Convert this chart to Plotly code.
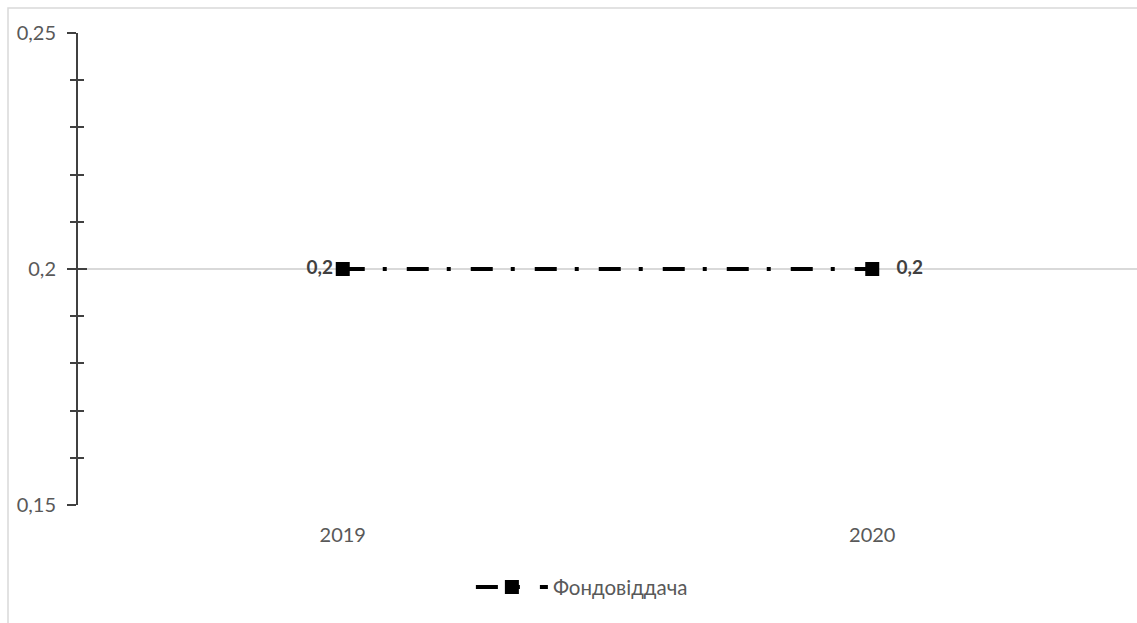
import plotly.graph_objects as go

# Fixed-asset productivity (фондовіддача) by year
years = ["2019", "2020"]
fondovidacha = [0.2, 0.2]
series_name = "Фондовіддача"
label_pos = ["middle left", "middle right"]

y_min, y_max, y_major, y_minor = 0.15, 0.25, 0.05, 0.01

# value labels; the right one is padded away from its marker
pads = ["", "&nbsp;&nbsp;&nbsp;"]
labels = [p + "<b>" + f"{v:.1f}".replace(".", ",") + "</b>" for p, v in zip(pads, fondovidacha)]

FONT = "Lato"
TXT = "#595959"
AXIS = "#404040"

fig = go.Figure()
fig.add_trace(go.Scatter(
    x=years, y=fondovidacha, name=series_name,
    mode="lines+markers+text",
    line=dict(color="#000000", width=4, dash="22px,18px,4px,20px"),
    marker=dict(symbol="square", size=14, color="#000000"),
    text=labels, textposition=label_pos,
    textfont=dict(family=FONT, size=19, color=AXIS),
    cliponaxis=False,
))

fig.update_layout(
    width=1137, height=623,
    margin=dict(l=78, r=0, t=33, b=118),
    paper_bgcolor="white", plot_bgcolor="white",
    separators=", ",
    font=dict(family=FONT, size=20, color=TXT),
    showlegend=True,
    legend=dict(orientation="h", x=0.371, xanchor="left", y=-0.174, yanchor="middle",
                itemwidth=72,
                font=dict(family=FONT, size=20.5, color=TXT)),
    xaxis=dict(type="category", range=[-0.5, 1.5], showgrid=False, showline=False,
               ticks="", zeroline=False, ticklabelstandoff=16,
               tickfont=dict(family=FONT, size=20, color=TXT)),
    yaxis=dict(range=[y_min, y_max], dtick=y_major, tick0=y_min,
               showgrid=True, gridcolor="#d9d9d9", gridwidth=1.5,
               showline=True, linecolor=AXIS, linewidth=2,
               ticks="outside", ticklen=9, tickwidth=2, tickcolor=AXIS,
               ticklabelstandoff=7, zeroline=False,
               tickfont=dict(family=FONT, size=20, color=TXT),
               minor=dict(dtick=y_minor, ticks="outside", ticklen=6, tickwidth=1.5,
                          tickcolor=AXIS, showgrid=False)),
    # mirror axis supplies the inner half of the cross-style ticks
    yaxis2=dict(range=[y_min, y_max], dtick=y_major, tick0=y_min, overlaying="y",
                side="left", showgrid=False, showline=False, zeroline=False,
                showticklabels=False, ticks="inside", ticklen=9, tickwidth=2,
                tickcolor=AXIS,
                minor=dict(dtick=y_minor, ticks="inside", ticklen=6, tickwidth=1.5,
                           tickcolor=AXIS, showgrid=False)),
)

# invisible trace to activate the mirror axis
fig.add_trace(go.Scatter(x=years, y=fondovidacha, yaxis="y2", mode="none",
                         showlegend=False, hoverinfo="skip"))

# chart-area frame
fig.add_shape(type="rect", xref="paper", yref="paper",
              x0=-0.0661, x1=1.01, y0=-0.3, y1=1.053,
              line=dict(color="#d9d9d9", width=1.5), fillcolor="rgba(0,0,0,0)", layer="below")

fig.write_html("out.html")
